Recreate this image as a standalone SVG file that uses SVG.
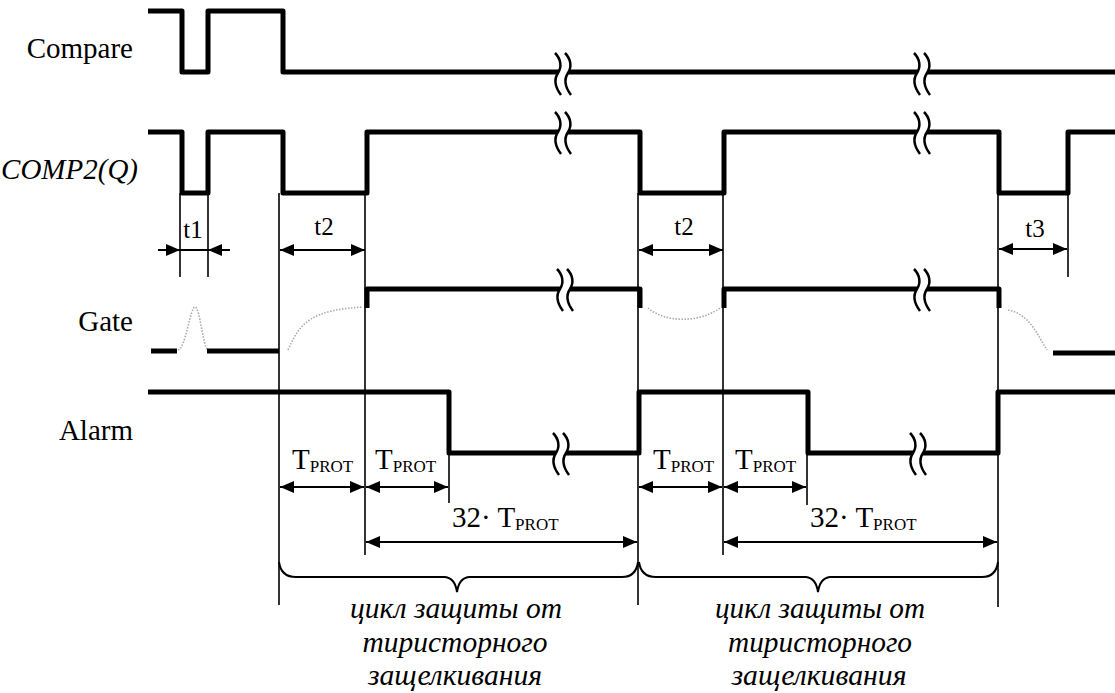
<svg xmlns="http://www.w3.org/2000/svg" xmlns:xlink="http://www.w3.org/1999/xlink" width="1115" height="693" viewBox="0 0 1115 693">
<style>
.sig{fill:none;stroke:#000;stroke-width:5;stroke-linejoin:round;stroke-linecap:butt}
.thin{fill:none;stroke:#000;stroke-width:1.6}
.dim{fill:none;stroke:#000;stroke-width:2}
.gray{fill:none;stroke:#aaa;stroke-width:1.6;stroke-dasharray:1.5 1.5}
text{font-family:'Liberation Serif','Times New Roman',serif;fill:#000}
.lbl{font-size:29px}
.tl{font-size:25px;text-anchor:middle}
.tp{font-size:29px}
.sub{font-size:17px}
.cyc{font-style:italic;font-size:30px;text-anchor:middle}
</style>
<defs>
<marker id="ah" viewBox="0 0 14 12" refX="14" refY="6" markerWidth="14" markerHeight="12" markerUnits="userSpaceOnUse" orient="auto-start-reverse">
<path d="M0,0 L14,6 L0,12 z" fill="#000"/>
</marker>
<g id="brk">
<path d="M-2,-20 C4,-14 5,-6 1,0 C-3,6 -2,14 4,22" fill="none" stroke="#fff" stroke-width="9"/>
<path d="M-7,-20 C-1,-14 0,-6 -4,0 C-8,6 -7,14 -1,22" fill="none" stroke="#000" stroke-width="2.5"/>
<path d="M3,-20 C9,-14 10,-6 6,0 C2,6 3,14 9,22" fill="none" stroke="#000" stroke-width="2.5"/>
</g>
</defs>
<rect width="1115" height="693" fill="#fff"/>

<g id="connectors">
<line class="thin" x1="180" y1="193" x2="180" y2="277"/>
<line class="thin" x1="208" y1="193" x2="208" y2="277"/>
<line class="thin" x1="279" y1="193" x2="279" y2="605"/>
<line class="thin" x1="365" y1="193" x2="365" y2="555"/>
<line class="thin" x1="449" y1="453" x2="449" y2="503"/>
<line class="thin" x1="638" y1="193" x2="638" y2="605"/>
<line class="thin" x1="723" y1="193" x2="723" y2="555"/>
<line class="thin" x1="807" y1="453" x2="807" y2="505"/>
<line class="thin" x1="998" y1="193" x2="998" y2="607"/>
<line class="thin" x1="1068" y1="193" x2="1068" y2="277"/>
<line class="dim" x1="158" y1="250" x2="180" y2="250" marker-end="url(#ah)"/>
<line class="dim" x1="230" y1="250" x2="208" y2="250" marker-end="url(#ah)"/>
<line class="dim" x1="180" y1="250" x2="208" y2="250"/>
<line class="dim" x1="280" y1="250" x2="365" y2="250" marker-start="url(#ah)" marker-end="url(#ah)"/>
<line class="dim" x1="639" y1="250" x2="723" y2="250" marker-start="url(#ah)" marker-end="url(#ah)"/>
<line class="dim" x1="999" y1="249" x2="1067" y2="249" marker-start="url(#ah)" marker-end="url(#ah)"/>
<line class="dim" x1="280" y1="487" x2="364" y2="487" marker-start="url(#ah)" marker-end="url(#ah)"/>
<line class="dim" x1="366" y1="487" x2="448" y2="487" marker-start="url(#ah)" marker-end="url(#ah)"/>
<line class="dim" x1="639" y1="487" x2="722" y2="487" marker-start="url(#ah)" marker-end="url(#ah)"/>
<line class="dim" x1="724" y1="487" x2="806" y2="487" marker-start="url(#ah)" marker-end="url(#ah)"/>
<line class="dim" x1="366" y1="542" x2="637" y2="542" marker-start="url(#ah)" marker-end="url(#ah)"/>
<line class="dim" x1="724" y1="542" x2="997" y2="542" marker-start="url(#ah)" marker-end="url(#ah)"/>
<path class="dim" d="M279,562 Q281,577 296,577 L445,577 Q455,578 457,592 Q459,578 469,577 L622,577 Q636,577 638,562"/>
<path class="dim" d="M639,562 Q641,577 656,577 L806,577 Q816,578 818,592 Q820,578 830,577 L982,577 Q996,577 998,562"/>
</g>

<g id="compare">
<path class="sig" d="M148,11 H182 V72 H208 V11 H283 V72 H1115"/>
<use xlink:href="#brk" href="#brk" x="562" y="73"/>
<use xlink:href="#brk" href="#brk" x="921" y="73"/>
<text class="lbl" x="133" y="58" text-anchor="end">Compare</text>
</g>

<g id="comp2">
<path class="sig" d="M148,132 H182 V193 H208 V132 H283 V193 H367 V132 H640 V193 H724 V132 H999 V193 H1068 V132 H1115"/>
<use xlink:href="#brk" href="#brk" x="562" y="132"/>
<use xlink:href="#brk" href="#brk" x="921" y="132"/>
<text class="lbl" x="138" y="179" text-anchor="end" font-style="italic">COMP2(Q)</text>
</g>

<g id="gate">
<path class="gray" d="M178,350 C186,348 190,307 195,307 C200,307 203,348 208,350"/>
<path class="gray" d="M288,350 C300,322 312,310 363,307"/>
<path class="gray" d="M648,308 C665,323 700,323 720,308"/>
<path class="gray" d="M1008,310 C1030,314 1038,336 1047,350"/>
<path class="sig" d="M151,351 H177"/>
<path class="sig" d="M207,351 H279"/>
<path class="sig" d="M367,308 V289 H640 V308"/>
<path class="sig" d="M724,308 V289 H999 V308"/>
<path class="sig" d="M1053,353 H1115"/>
<use xlink:href="#brk" href="#brk" x="564" y="289"/>
<use xlink:href="#brk" href="#brk" x="921" y="289"/>
<text class="lbl" x="133" y="331" text-anchor="end">Gate</text>
</g>

<g id="alarm">
<path class="sig" d="M148,392 H449 V453 H639 V392 H808 V453 H998 V392 H1115"/>
<use xlink:href="#brk" href="#brk" x="560" y="453"/>
<use xlink:href="#brk" href="#brk" x="917" y="453"/>
<text class="lbl" x="133" y="440" text-anchor="end">Alarm</text>
</g>

<g id="labels">
<text class="tl" x="193" y="238">t1</text>
<text class="tl" x="324" y="235">t2</text>
<text class="tl" x="684" y="235">t2</text>
<text class="tl" x="1035" y="237">t3</text>
<text class="tp" x="292" y="469">T<tspan class="sub" dy="3">PROT</tspan></text>
<text class="tp" x="375" y="469">T<tspan class="sub" dy="3">PROT</tspan></text>
<text class="tp" x="653" y="469">T<tspan class="sub" dy="3">PROT</tspan></text>
<text class="tp" x="735" y="469">T<tspan class="sub" dy="3">PROT</tspan></text>
<text class="tp" x="452" y="527">32· T<tspan class="sub" dy="3">PROT</tspan></text>
<text class="tp" x="810" y="527">32· T<tspan class="sub" dy="3">PROT</tspan></text>
</g>

<g id="cycle1">
<text class="cyc" x="456" y="618" textLength="212" lengthAdjust="spacingAndGlyphs">цикл защиты от</text>
<text class="cyc" x="455" y="652" textLength="185" lengthAdjust="spacingAndGlyphs">тиристорного</text>
<text class="cyc" x="455" y="685" textLength="174" lengthAdjust="spacingAndGlyphs">защелкивания</text>
</g>
<g id="cycle2">
<text class="cyc" x="820" y="618" textLength="210" lengthAdjust="spacingAndGlyphs">цикл защиты от</text>
<text class="cyc" x="820" y="652" textLength="184" lengthAdjust="spacingAndGlyphs">тиристорного</text>
<text class="cyc" x="819" y="685" textLength="175" lengthAdjust="spacingAndGlyphs">защелкивания</text>
</g>
</svg>
